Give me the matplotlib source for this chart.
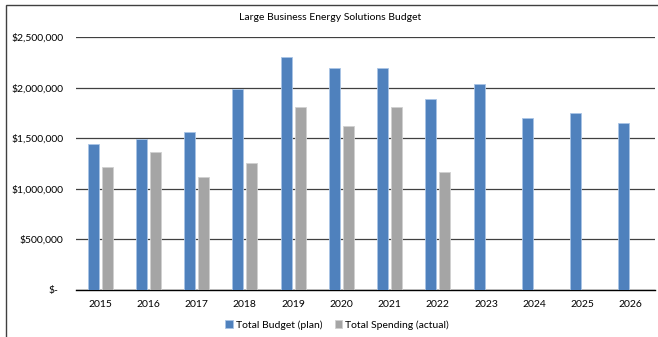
import numpy as np
import matplotlib.pyplot as plt
import matplotlib.transforms as mtransforms
from matplotlib.patches import Rectangle
from matplotlib.ticker import FuncFormatter

# budget data
years = ["2015", "2016", "2017", "2018", "2019", "2020",
         "2021", "2022", "2023", "2024", "2025", "2026"]
budget_plan = [1444000, 1490000, 1563000, 1985000, 2305000, 2193000,
               2193000, 1889000, 2038000, 1698000, 1751000, 1649000]
spending_actual = [1213000, 1362000, 1121000, 1253000, 1810000, 1622000,
                   1807000, 1170000, np.nan, np.nan, np.nan, np.nan]

plt.rcParams["font.family"] = ["Lato", "DejaVu Sans"]

fig = plt.figure(figsize=(6.58, 3.37), dpi=100)
ax = fig.add_axes([76 / 658, 1 - 290 / 337, 579 / 658, 252.7 / 337])

x = np.arange(len(years))
w = 0.23
ax.bar(x - 0.145, budget_plan, width=w, color="#4F81BD",
       edgecolor="#A9C4E6", linewidth=0.6, label="Total Budget (plan)", zorder=3)
ax.bar(x + 0.145, spending_actual, width=w, color="#A5A5A5",
       edgecolor="#D0D0D0", linewidth=0.6, label="Total Spending (actual)", zorder=3)

ax.set_xlim(-0.5, len(years) - 0.5)
ax.set_ylim(0, 2500000)
ax.set_yticks(np.arange(0, 2500001, 500000))
# zero label is drawn separately, accounting style
ax.yaxis.set_major_formatter(FuncFormatter(
    lambda v, p: "" if v == 0 else f"${v:,.0f}"))
ax.set_xticks(x)
ax.set_xticklabels(years)

zero_tr = mtransforms.blended_transform_factory(ax.transAxes, ax.transData) + \
    mtransforms.ScaledTranslation(-13 / 72, 0, fig.dpi_scale_trans)
ax.text(0, 0, "$-", transform=zero_tr, ha="right", va="center", fontsize=7.5)

ax.grid(axis="y", color="#404040", linewidth=0.9, zorder=0)
for s in ["top", "right", "left"]:
    ax.spines[s].set_visible(False)
ax.spines["bottom"].set_color("#000000")
ax.spines["bottom"].set_linewidth(1.0)
ax.tick_params(axis="both", length=0, labelsize=7.5, colors="#000000")
ax.tick_params(axis="y", pad=9)
ax.tick_params(axis="x", pad=7)

fig.text(330 / 658, 1 - 18 / 337, "Large Business Energy Solutions Budget",
         ha="center", va="center", fontsize=7.5)

fig.legend(loc="center", bbox_to_anchor=(337 / 658, 1 - 325 / 337), ncol=2,
           frameon=False, fontsize=7.5, handlelength=0.7, handleheight=0.7,
           handletextpad=0.3, columnspacing=1.2)

# chart frame
fig.patches.append(Rectangle((6 / 658, -0.05), 1.1, 1 - 5 / 337 + 0.05,
                             transform=fig.transFigure, fill=False,
                             edgecolor="#404040", linewidth=1.0))

fig.savefig("out.png", dpi=100)
